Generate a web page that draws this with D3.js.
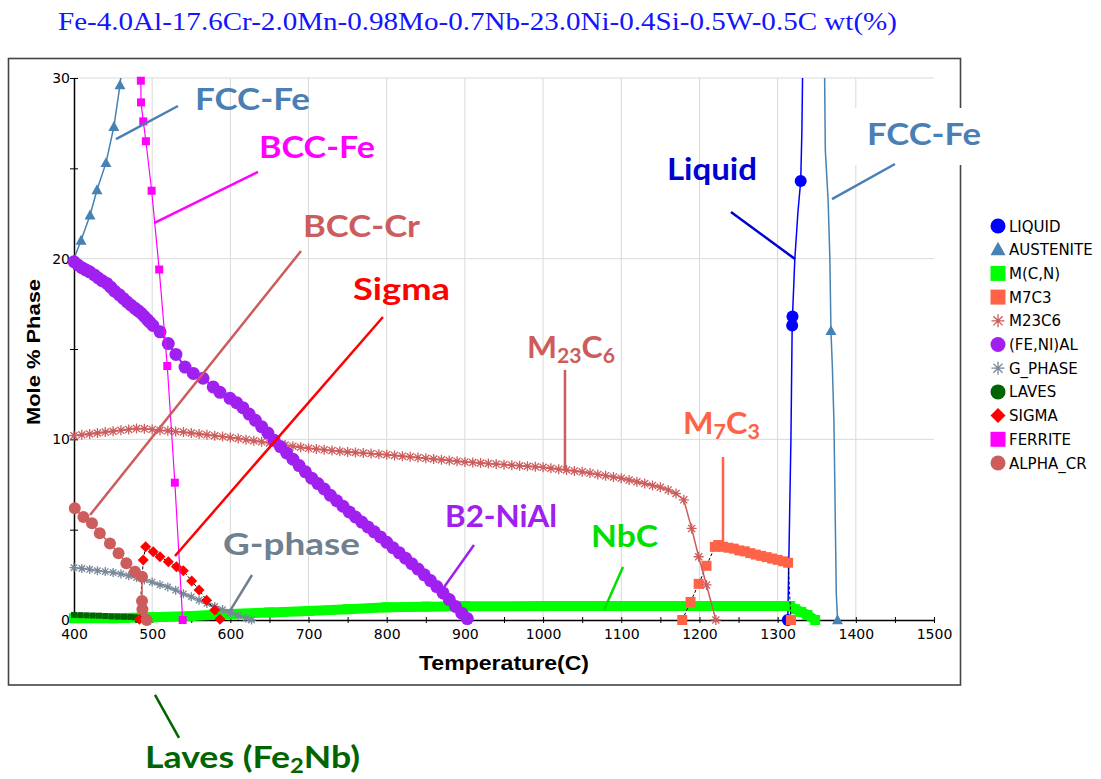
<!DOCTYPE html>
<html lang="en">
<head>
<meta charset="UTF-8">
<title>Phase fraction vs temperature</title>
<script src="https://d3js.org/d3.v7.min.js"></script>
<style>
    body { margin: 0; background: #fff; }
    svg { display: block; }
    .tick text { font-family: "DejaVu Sans", sans-serif; font-size: 14px; fill: #000; }
    .note { font-family: Lato, "Open Sans", sans-serif; font-weight: 700; }
    .legend text { font-family: "DejaVu Sans", sans-serif; font-size: 15px; fill: #000; }
</style>
</head>
<body>
<div id="chart"></div>
<script>
    /*------------------- data (temperature C, mole % phase) --------------------*/
    const titleText = "Fe-4.0Al-17.6Cr-2.0Mn-0.98Mo-0.7Nb-23.0Ni-0.4Si-0.5W-0.5C wt(%)";
    const xTicks = [400, 450, 500, 550, 600, 650, 700, 750, 800, 850, 900, 950, 1000, 1050,
        1100, 1150, 1200, 1250, 1300, 1350, 1400, 1450, 1500];
    const yTicks = [0, 5, 10, 15, 20, 25, 30];

    const liquidLine = [[1313, 0], [1315, 5], [1317, 10], [1318.6, 16.3], [1319, 16.8], [1322, 20],
        [1326, 22.6], [1329.5, 24.3], [1331, 27], [1332, 30.5]];
    const liquidMarks = [[1313, 0], [1318.6, 16.3], [1319, 16.8], [1329.5, 24.3]];

    const austeniteLow = [[400, 20], [409, 21], [420.5, 22.4], [429.4, 23.8], [440.9, 25.3],
        [451, 27.3], [458.8, 29.6], [461, 30.5]];
    const austeniteHigh = [[1360, 30.5], [1361, 26], [1364.6, 23.2], [1366.8, 20], [1368.2, 16],
        [1370, 14], [1372, 11], [1373, 7.9], [1375, 1.5], [1376.6, 0]];
    const austeniteMarks = [[409, 21], [420.5, 22.4], [429.4, 23.8], [440.9, 25.3], [451, 27.3],
        [458.8, 29.6], [1368.2, 16], [1376.6, 0]];

    const mcnPoints = [[400, 0.1], [450, 0.1], [500, 0.15], [550, 0.22], [600, 0.33], [650, 0.42],
        [700, 0.5], [750, 0.6], [800, 0.7], [850, 0.74], [900, 0.76], [1000, 0.77], [1100, 0.77],
        [1200, 0.77], [1300, 0.77], [1316, 0.77], [1322, 0.6], [1330, 0.45], [1338, 0.28], [1348, 0]];

    const m7c3Points = [[1178, 0], [1188.6, 1.0], [1199, 2.0], [1209, 3.0], [1219.7, 4.05], [1224, 4.15],
        [1230, 4.05], [1237, 4.0], [1244, 3.95], [1251, 3.85], [1258, 3.8], [1265, 3.7], [1272, 3.62],
        [1279, 3.55], [1286, 3.48], [1293, 3.4], [1300, 3.33], [1307, 3.25], [1313.4, 3.17], [1317, 0]];

    const m23c6Points = [[400, 10.2], [410, 10.25], [420, 10.3], [430, 10.35], [440, 10.4], [450, 10.45],
        [460, 10.5], [470, 10.55], [480, 10.6], [490, 10.58], [500, 10.55], [510, 10.5], [520, 10.47],
        [530, 10.43], [540, 10.4], [550, 10.35], [560, 10.3], [570, 10.25], [580, 10.2], [590, 10.15],
        [600, 10.1], [610, 10.05], [620, 9.98], [630, 9.92], [640, 9.86], [650, 9.8], [660, 9.74],
        [670, 9.68], [680, 9.62], [690, 9.56], [700, 9.5], [710, 9.46], [720, 9.42], [730, 9.38],
        [740, 9.34], [750, 9.3], [760, 9.27], [770, 9.24], [780, 9.21], [790, 9.18], [800, 9.15],
        [810, 9.11], [820, 9.07], [830, 9.03], [840, 8.99], [850, 8.95], [860, 8.91], [870, 8.87],
        [880, 8.83], [890, 8.79], [900, 8.75], [910, 8.72], [920, 8.69], [930, 8.66], [940, 8.63],
        [950, 8.6], [960, 8.57], [970, 8.54], [980, 8.51], [990, 8.48], [1000, 8.45], [1010, 8.4],
        [1020, 8.35], [1030, 8.3], [1040, 8.25], [1050, 8.2], [1060, 8.13], [1070, 8.06], [1080, 7.99],
        [1090, 7.92], [1100, 7.85], [1110, 7.75], [1120, 7.65], [1130, 7.55], [1140, 7.45], [1150, 7.35],
        [1160, 7.2], [1170, 7.0], [1180, 6.65], [1190, 5.07], [1199, 3.5], [1209, 1.94], [1221, 0]];

    const feniAlPoints = [[400, 19.83], [405, 19.65], [410, 19.5], [415, 19.38], [420, 19.27], [426, 19.1],
        [431, 18.93], [436, 18.78], [442, 18.63], [447, 18.42], [452, 18.2], [458, 18.0], [463, 17.8],
        [468, 17.6], [473, 17.42], [478, 17.25], [482, 17.12], [486, 16.98], [490, 16.8], [494, 16.62],
        [497, 16.48], [501, 16.3], [510, 15.95], [520.6, 15.3], [530.4, 14.7], [542, 14.0], [552.6, 13.65],
        [565, 13.38], [578, 12.9], [586.7, 12.6], [599.5, 12.27], [608, 12.03], [616, 11.75], [624, 11.4],
        [632, 11.05], [640, 10.7], [648, 10.35], [656, 9.95], [664, 9.6], [672, 9.25], [680, 8.9],
        [688, 8.55], [696, 8.2], [704, 7.85], [712, 7.55], [720, 7.25], [728, 6.9], [736, 6.6], [744, 6.3],
        [752, 5.98], [760, 5.7], [768, 5.42], [776, 5.15], [784, 4.88], [792, 4.6], [800, 4.3], [808, 4.0],
        [816, 3.72], [824, 3.42], [832, 3.12], [840, 2.82], [848, 2.5], [856, 2.18], [864, 1.85],
        [872, 1.5], [880, 1.13], [888, 0.75], [896, 0.38], [903, 0.08]];

    const gPhasePoints = [[400, 2.9], [410, 2.85], [420, 2.8], [430, 2.73], [440, 2.68], [450, 2.63],
        [460, 2.55], [470, 2.45], [480, 2.35], [490, 2.22], [500, 2.1], [510, 1.95], [520, 1.83],
        [530, 1.65], [540, 1.45], [550, 1.28], [560, 1.1], [570, 0.92], [580, 0.75], [590, 0.58],
        [600, 0.42], [610, 0.25], [620, 0.1], [627, 0]];

    const lavesPoints = [[400, 0.28], [408, 0.27], [416, 0.26], [424, 0.25], [432, 0.24], [440, 0.22],
        [448, 0.2], [456, 0.19], [464, 0.18], [472, 0.17], [478, 0.15], [482, 0]];

    const sigmaPoints = [[483.6, 0.04], [488.6, 3.32], [491.6, 4.06], [501.4, 3.78], [510, 3.5],
        [520.6, 3.23], [531, 2.95], [539.8, 2.73], [550.5, 2.16], [560, 1.66], [569.6, 1.1],
        [580, 0.55], [586.7, 0.04]];

    const ferritePoints = [[485.5, 29.85], [485.7, 28.65], [488.6, 27.6], [492, 26.5], [499.3, 23.76],
        [509, 19.4], [519.3, 14.06], [529, 7.6], [539, 0]];

    const alphaCrPoints = [[401, 6.18], [412, 5.7], [423, 5.35], [433, 4.8], [446, 4.24], [457, 3.69],
        [467, 3.14], [478, 2.67], [487, 2.4], [487, 1.05], [487.5, 0.6], [493, 0]];

    const legendNames = ["LIQUID", "AUSTENITE", "M(C,N)", "M7C3", "M23C6", "(FE,NI)AL", "G_PHASE",
        "LAVES", "SIGMA", "FERRITE", "ALPHA_CR"];

    // annotation labels, anchored in data units (T, mole %)
    const noteParts = [
        [["FCC-Fe"]], [["BCC-Fe"]], [["BCC-Cr"]], [["Sigma"]],
        [["M"], ["23", 1], ["C"], ["6", 1]], [["M"], ["7", 1], ["C"], ["3", 1]],
        [["Liquid"]], [["FCC-Fe"]], [["G-phase"]], [["B2-NiAl"]], [["NbC"]],
        [["Laves (Fe"], ["2", 1], ["Nb)"]]
    ];
    const noteAnchors = [[554.8, 28.23], [636.6, 25.57], [692.9, 21.2], [756.9, 17.71], [979.4, 14.5],
        [1178.9, 10.3], [1158.4, 24.35], [1414.3, 26.29], [590.6, 3.6], [874.5, 5.15], [1061.3, 4.04],
        [490.8, -8.2]];
    const noteLeaders = [
        [[453.7, 26.62], [533.0, 28.45]], [[502.3, 21.97], [635.3, 24.8]], [[420.5, 5.81], [690.3, 20.42]],
        [[529.2, 3.54], [795.2, 16.77]], [[1028.0, 13.84], [1028.0, 8.3]], [[1230.1, 9.02], [1230.1, 4.26]],
        [[1240.3, 22.58], [1322.2, 19.98]], [[1369.5, 23.3], [1450.1, 25.24]], [[599.5, 0.5], [627.7, 2.49]],
        [[870.7, 1.66], [911.6, 4.15]], [[1077.9, 0.55], [1102.2, 2.93]], [[503.6, -4.15], [534.3, -6.53]]
    ];

    /*------------------- setup --------------------*/
    const width = 1101, height = 779;
    const svg = d3.select("#chart").append("svg")
        .attr("width", width)
        .attr("height", height);

    const x = d3.scaleLinear().domain([400, 1500]).range([74, 934]);
    const y = d3.scaleLinear().domain([0, 30]).range([620, 78]);

    // title
    svg.append("text")
        .attr("x", 58).attr("y", 30)
        .attr("textLength", 839).attr("lengthAdjust", "spacingAndGlyphs")
        .style("font-family", "'Liberation Serif', 'DejaVu Serif', serif")
        .style("font-size", "26px")
        .style("fill", "#1414ff")
        .text(titleText);

    // outer frame
    svg.append("rect")
        .attr("x", 8.5).attr("y", 58.5).attr("width", 952).attr("height", 626.5)
        .attr("fill", "none").attr("stroke", "#444").attr("stroke-width", 1.6);

    // gridlines
    const grid = svg.append("g").attr("stroke", "#d9d9d9").attr("stroke-width", 1);
    grid.selectAll("line.v").data(xTicks.filter(d => d % 100 === 0 && d > 400 && d < 1500))
        .enter().append("line")
        .attr("x1", d => x(d)).attr("x2", d => x(d))
        .attr("y1", y(30)).attr("y2", y(0));
    grid.selectAll("line.h").data(yTicks.filter(d => d % 10 === 0 && d > 0))
        .enter().append("line")
        .attr("x1", x(400)).attr("x2", x(1500))
        .attr("y1", d => y(d)).attr("y2", d => y(d));

    // axes
    const xAxis = svg.append("g")
        .attr("transform", `translate(0,${y(0)})`)
        .call(d3.axisBottom(x).tickValues(xTicks).tickSize(3).tickSizeOuter(0)
            .tickFormat(d => d % 100 === 0 ? d : ""));
    xAxis.selectAll(".tick line").attr("y1", -3).attr("y2", 3).attr("stroke", "#000");
    xAxis.selectAll(".tick text").attr("y", 9);
    xAxis.select(".domain").attr("stroke", "#000").attr("stroke-width", 1.5);

    const yAxis = svg.append("g")
        .attr("transform", `translate(${x(400)},0)`)
        .call(d3.axisLeft(y).tickValues(yTicks).tickSize(4).tickSizeOuter(0)
            .tickFormat(d => d % 10 === 0 ? d : ""));
    yAxis.selectAll(".tick line").attr("x1", -4).attr("x2", 4).attr("stroke", "#000");
    yAxis.selectAll(".tick text").attr("x", -4);
    yAxis.select(".domain").attr("stroke", "#000").attr("stroke-width", 1.5);

    svg.append("text")
        .attr("x", 419).attr("y", 670)
        .attr("textLength", 170).attr("lengthAdjust", "spacingAndGlyphs")
        .style("font-family", "'Liberation Sans', Arial, sans-serif")
        .style("font-weight", "700").style("font-size", "20px")
        .text("Temperature(C)");

    svg.append("text")
        .attr("transform", "translate(40,425) rotate(-90)")
        .attr("textLength", 146).attr("lengthAdjust", "spacingAndGlyphs")
        .style("font-family", "'Liberation Sans', Arial, sans-serif")
        .style("font-weight", "700").style("font-size", "19px")
        .text("Mole % Phase");

    /*------------------- series --------------------*/
    function symbolPath(kind, w) {
        const r = w / 2;
        if (kind === "circle") return d3.symbol(d3.symbolCircle, Math.PI * r * r)();
        if (kind === "square") return `M${-r},${-r}H${r}V${r}H${-r}Z`;
        if (kind === "diamond") return `M0,${-r}L${r},0L0,${r}L${-r},0Z`;
        if (kind === "triangle") return `M0,${-r * 1.05}L${r},${r * 0.75}L${-r},${r * 0.75}Z`;
        const d = r * 0.7071;
        return `M${-r},0H${r}M0,${-r}V${r}M${-d},${-d}L${d},${d}M${-d},${d}L${d},${-d}`;
    }

    const series = [
        { color: "#0000ff", lines: [liquidLine], marks: liquidMarks, sym: "circle", w: 12, lw: 1.5, lc: "#0000ff", leg: "circle" },
        { color: "#4682b4", lines: [austeniteLow, austeniteHigh], marks: austeniteMarks, sym: "triangle", w: 11, lw: 1.5, lc: "#4682b4", leg: "triangle" },
        { color: "#00ff00", lines: [mcnPoints], marks: mcnPoints, sym: "square", w: 10, lw: 10, lc: "#00ff00", leg: "square" },
        { color: "#ff6347", lines: [m7c3Points], marks: m7c3Points, sym: "square", w: 10, lw: 1, lc: "#000", dash: "3,2", leg: "square" },
        { color: "#cd5c5c", lines: [m23c6Points], marks: m23c6Points, sym: "asterisk", w: 10, lw: 1.5, lc: "#cd5c5c", leg: "asterisk" },
        { color: "#a020f0", lines: [feniAlPoints], marks: feniAlPoints, sym: "circle", w: 13, lw: 2, lc: "#a020f0", leg: "circle" },
        { color: "#778899", lines: [gPhasePoints], marks: gPhasePoints, sym: "asterisk", w: 9, lw: 1.5, lc: "#778899", leg: "asterisk" },
        { color: "#006400", lines: [lavesPoints], marks: lavesPoints, sym: "square", w: 6, lw: 1, lc: "#006400", leg: "circle" },
        { color: "#ff0000", lines: [sigmaPoints], marks: sigmaPoints, sym: "diamond", w: 11, lw: 1, lc: "#000", dash: "3,2", leg: "diamond" },
        { color: "#ff00ff", lines: [ferritePoints], marks: ferritePoints, sym: "square", w: 8, lw: 1.2, lc: "#ff00ff", leg: "square" },
        { color: "#cd5c5c", lines: [alphaCrPoints], marks: alphaCrPoints, sym: "circle", w: 12, lw: 1.5, lc: "#cd5c5c", leg: "circle" }
    ];

    svg.append("clipPath").attr("id", "plot-clip")
        .append("rect").attr("x", x(400)).attr("y", y(30)).attr("width", x(1500) - x(400)).attr("height", y(0) - y(30) + 6);

    const line = d3.line().x(d => x(d[0])).y(d => y(d[1]));
    const plot = svg.append("g");

    series.forEach(s => {
        const g = plot.append("g");
        g.selectAll("path.ln").data(s.lines).enter().append("path")
            .attr("clip-path", "url(#plot-clip)")
            .attr("d", line)
            .attr("fill", "none")
            .attr("stroke", s.lc)
            .attr("stroke-width", s.lw)
            .attr("stroke-dasharray", s.dash || null);
        const p = symbolPath(s.sym, s.w);
        g.selectAll("path.mk").data(s.marks).enter().append("path")
            .attr("transform", d => `translate(${x(d[0])},${y(d[1])})`)
            .attr("d", p)
            .attr("fill", s.sym === "asterisk" ? "none" : s.color)
            .attr("stroke", s.sym === "asterisk" ? s.color : "none")
            .attr("stroke-width", 1.3);
    });

    /*------------------- legend --------------------*/
    const legend = svg.append("g").attr("class", "legend");
    legendNames.forEach((name, i) => {
        const s = series[i];
        const ly = 226 + i * 23.7;
        const w = s.leg === "asterisk" ? 13 : 15;
        legend.append("path")
            .attr("transform", `translate(998,${ly})`)
            .attr("d", symbolPath(s.leg, w))
            .attr("fill", s.leg === "asterisk" ? "none" : s.color)
            .attr("stroke", s.leg === "asterisk" ? s.color : "none")
            .attr("stroke-width", 1.3);
        legend.append("text")
            .attr("x", 1009).attr("y", ly + 5.5)
            .text(name);
    });

    /*------------------- annotations --------------------*/
    const noteColors = ["#4a7fb5", "#ff00ff", "#cd5c5c", "#ff0000", "#cd5c5c", "#ff6347",
        "#0000d0", "#4a7fb5", "#708090", "#a020f0", "#00e000", "#006400"];
    const noteWidths = [115, 116, 117, 97, 88, 77, 90, 114, 137, 112, 67, 215];

    // white box behind the right FCC-Fe label
    svg.append("rect")
        .attr("x", x(noteAnchors[7][0]) - 17).attr("y", y(noteAnchors[7][1]) - 37)
        .attr("width", 140).attr("height", 57)
        .attr("fill", "#fff");

    noteLeaders.forEach((l, i) => {
        svg.append("line")
            .attr("x1", x(l[0][0])).attr("y1", y(l[0][1]))
            .attr("x2", x(l[1][0])).attr("y2", y(l[1][1]))
            .attr("stroke", noteColors[i])
            .attr("stroke-width", 2.5);
    });

    noteParts.forEach((parts, i) => {
        const t = svg.append("text")
            .attr("class", "note")
            .attr("x", x(noteAnchors[i][0])).attr("y", y(noteAnchors[i][1]))
            .attr("textLength", noteWidths[i]).attr("lengthAdjust", "spacingAndGlyphs")
            .style("fill", noteColors[i])
            .style("font-size", "30px");
        let shifted = false;
        parts.forEach(p => {
            const sub = p[1] === 1;
            const ts = t.append("tspan").text(p[0]);
            if (sub) { ts.style("font-size", "20px").attr("dy", shifted ? 0 : 5); shifted = true; }
            else { if (shifted) ts.attr("dy", -5); shifted = false; }
        });
    });
</script>
</body>
</html>
